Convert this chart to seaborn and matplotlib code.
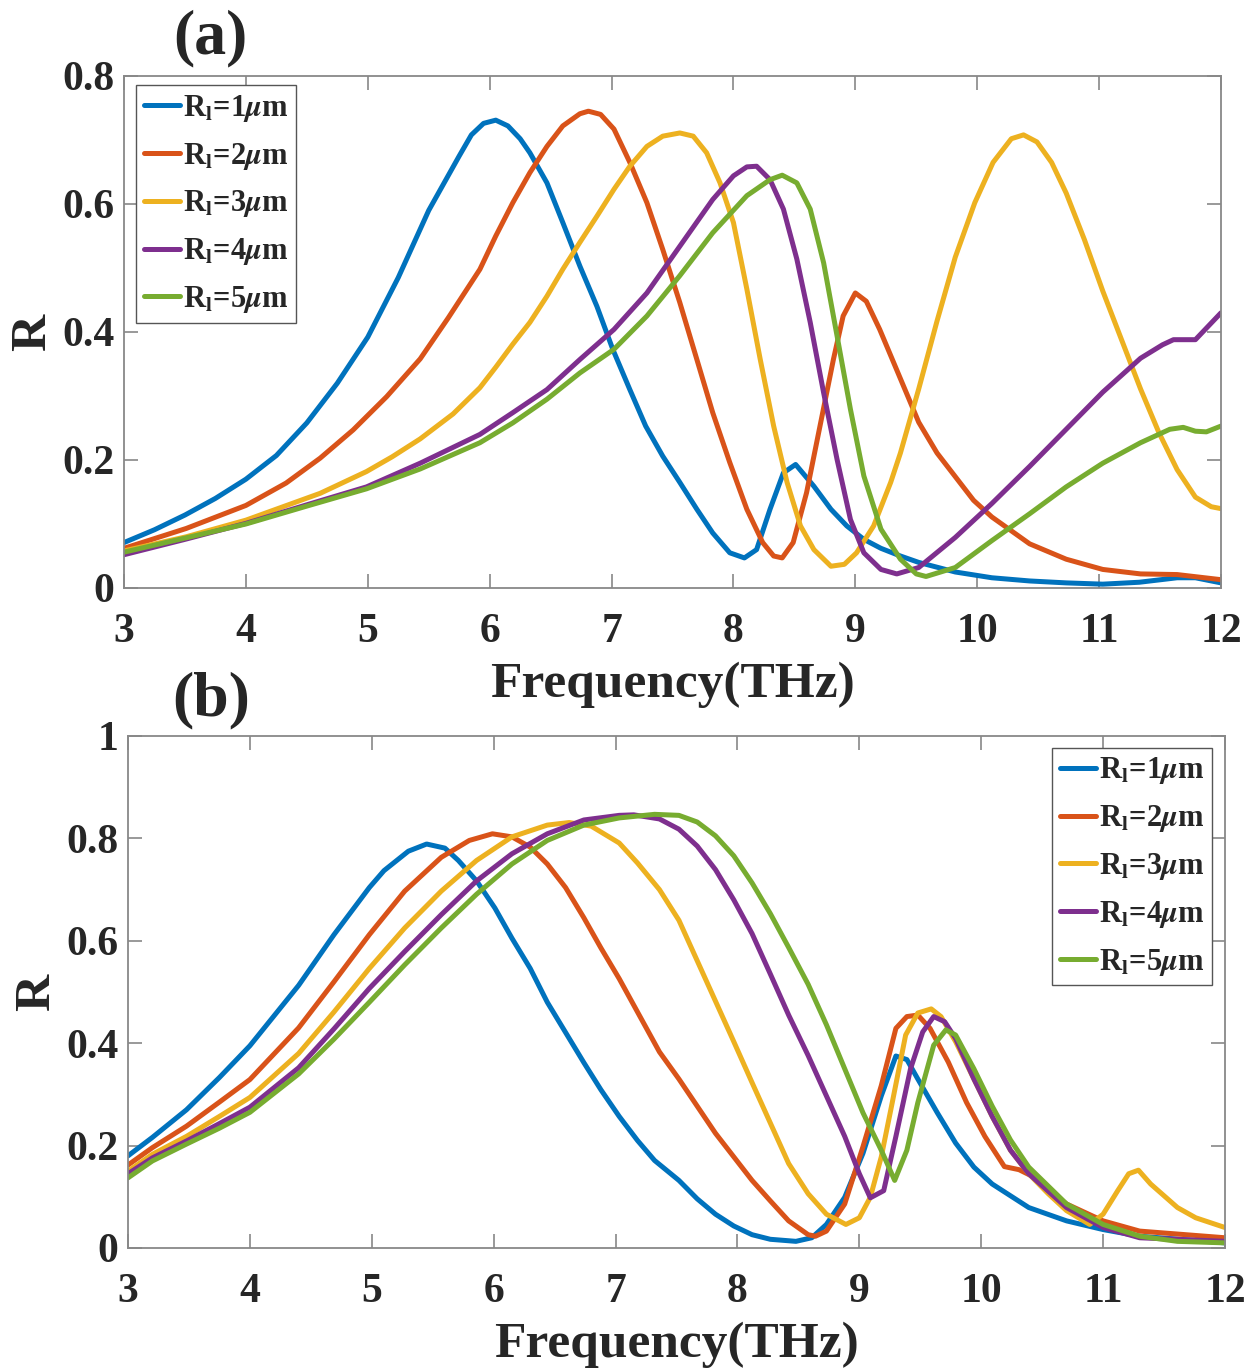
import numpy as np
import pandas as pd
import seaborn as sns
import matplotlib.pyplot as plt


# ---- panel (a) ----
a_f1 = [3.0, 3.25, 3.5, 3.75, 4.0, 4.25, 4.5, 4.75, 5.0, 5.25, 5.5, 5.75, 5.85, 5.95, 6.05, 6.15, 6.25,
        6.33, 6.47, 6.6, 6.74, 6.88, 7.01, 7.15, 7.28, 7.42, 7.56, 7.7, 7.83, 7.97, 8.09, 8.19, 8.3,
        8.41, 8.51, 8.66, 8.8, 8.93, 9.07, 9.21, 9.37, 9.52, 9.82, 10.12, 10.43, 10.73, 11.03, 11.33,
        11.64, 11.79, 12.0]
a_r1 = [0.071, 0.091, 0.114, 0.140, 0.170, 0.207, 0.258, 0.320, 0.392, 0.485, 0.59, 0.675, 0.708, 0.726,
        0.731, 0.722, 0.702, 0.68, 0.633, 0.571, 0.503, 0.44, 0.373, 0.31, 0.253, 0.206, 0.165, 0.123,
        0.086, 0.055, 0.047, 0.06, 0.123, 0.18, 0.193, 0.159, 0.123, 0.097, 0.076, 0.062, 0.05, 0.04,
        0.025, 0.016, 0.011, 0.008, 0.006, 0.009, 0.016, 0.016, 0.008]

a_f2 = [3.0, 3.51, 4.0, 4.33, 4.61, 4.88, 5.155, 5.43, 5.66, 5.92, 6.05, 6.19, 6.33, 6.47, 6.6, 6.74,
        6.81, 6.91, 7.02, 7.15, 7.29, 7.42, 7.56, 7.7, 7.83, 7.97, 8.11, 8.24, 8.33, 8.4, 8.49, 8.6,
        8.71, 8.82, 8.9, 9.0, 9.09, 9.2, 9.37, 9.52, 9.67, 9.82, 9.97, 10.12, 10.43, 10.73, 11.03,
        11.34, 11.64, 12.0]
a_r2 = [0.062, 0.093, 0.129, 0.164, 0.203, 0.247, 0.299, 0.358, 0.422, 0.498, 0.55, 0.602, 0.649, 0.69,
        0.722, 0.741, 0.745, 0.74, 0.717, 0.665, 0.602, 0.529, 0.446, 0.357, 0.274, 0.196, 0.123,
        0.071, 0.05, 0.047, 0.071, 0.149, 0.253, 0.357, 0.425, 0.461, 0.448, 0.404, 0.327, 0.259,
        0.211, 0.174, 0.137, 0.111, 0.069, 0.045, 0.029, 0.022, 0.021, 0.013]

a_f3 = [3.0, 3.51, 4.0, 4.61, 4.99, 5.2, 5.43, 5.70, 5.92, 6.05, 6.19, 6.33, 6.47, 6.6, 6.74, 6.88, 7.02,
        7.15, 7.29, 7.42, 7.56, 7.67, 7.78, 7.89, 8.0, 8.11, 8.22, 8.33, 8.44, 8.55, 8.66, 8.8, 8.91,
        9.01, 9.15, 9.29, 9.37, 9.52, 9.67, 9.82, 9.98, 10.13, 10.28, 10.38, 10.49, 10.61, 10.73,
        10.88, 11.03, 11.19, 11.34, 11.49, 11.64, 11.79, 11.92, 12.0]
a_r3 = [0.058, 0.080, 0.106, 0.148, 0.182, 0.205, 0.233, 0.272, 0.313, 0.345, 0.381, 0.415, 0.456,
        0.498, 0.54, 0.581, 0.623, 0.659, 0.69, 0.706, 0.711, 0.706, 0.68, 0.633, 0.571, 0.467, 0.357,
        0.253, 0.165, 0.097, 0.06, 0.034, 0.037, 0.055, 0.097, 0.165, 0.211, 0.311, 0.417, 0.517,
        0.602, 0.665, 0.702, 0.708, 0.697, 0.665, 0.617, 0.544, 0.464, 0.385, 0.311, 0.243, 0.185,
        0.142, 0.127, 0.124]

a_f4 = [3.0, 3.5, 4.0, 4.5, 4.99, 5.43, 5.92, 6.19, 6.47, 6.74, 7.02, 7.29, 7.56, 7.83, 8.0, 8.11,
        8.19, 8.3, 8.41, 8.52, 8.63, 8.74, 8.85, 8.96, 9.07, 9.21, 9.34, 9.52, 9.82, 10.12, 10.43,
        10.73, 11.03, 11.34, 11.52, 11.61, 11.79, 11.88, 12.0]
a_r4 = [0.052, 0.076, 0.101, 0.130, 0.158, 0.195, 0.24, 0.274, 0.31, 0.357, 0.404, 0.461, 0.534,
        0.607, 0.644, 0.658, 0.659, 0.638, 0.592, 0.514, 0.415, 0.305, 0.201, 0.107, 0.055, 0.029,
        0.022, 0.032, 0.079, 0.132, 0.19, 0.248, 0.306, 0.359, 0.38, 0.388, 0.388, 0.406, 0.43]

a_f5 = [3.0, 3.5, 4.0, 4.5, 4.99, 5.43, 5.92, 6.19, 6.47, 6.74, 7.02, 7.29, 7.56, 7.83, 8.11, 8.3,
        8.4, 8.52, 8.63, 8.74, 8.85, 8.96, 9.07, 9.21, 9.37, 9.5, 9.58, 9.82, 10.12, 10.43, 10.73,
        11.03, 11.34, 11.58, 11.69, 11.79, 11.88, 12.0]
a_r5 = [0.056, 0.078, 0.100, 0.128, 0.155, 0.186, 0.227, 0.258, 0.295, 0.336, 0.373, 0.425, 0.488,
        0.555, 0.613, 0.638, 0.645, 0.633, 0.592, 0.508, 0.394, 0.279, 0.175, 0.092, 0.045, 0.022,
        0.018, 0.032, 0.074, 0.116, 0.158, 0.195, 0.227, 0.248, 0.251, 0.245, 0.244, 0.253]

# ---- panel (b) ----
b_f1 = [3.0, 3.2, 3.48, 3.75, 4.0, 4.4, 4.69, 4.98, 5.1, 5.3, 5.45, 5.6, 5.71, 5.86, 6.01, 6.15, 6.3,
        6.44, 6.59, 6.74, 6.88, 7.03, 7.18, 7.32, 7.52, 7.67, 7.82, 7.97, 8.12, 8.27, 8.48, 8.61,
        8.73, 8.88, 9.03, 9.18, 9.3, 9.39, 9.48, 9.64, 9.79, 9.94, 10.09, 10.39, 10.7, 11.0, 11.3, 12.0]
b_r1 = [0.18, 0.216, 0.27, 0.333, 0.395, 0.513, 0.612, 0.704, 0.737, 0.775, 0.789, 0.781, 0.757, 0.717,
        0.664, 0.605, 0.546, 0.48, 0.421, 0.362, 0.309, 0.257, 0.21, 0.171, 0.132, 0.096, 0.066,
        0.043, 0.026, 0.017, 0.013, 0.02, 0.046, 0.099, 0.185, 0.297, 0.375, 0.368, 0.33, 0.264,
        0.205, 0.158, 0.125, 0.079, 0.053, 0.036, 0.023, 0.01]

b_f2 = [3.0, 3.2, 3.48, 3.75, 4.0, 4.4, 4.69, 4.98, 5.27, 5.57, 5.8, 5.99, 6.15, 6.3, 6.44, 6.59,
        6.74, 6.88, 7.03, 7.18, 7.36, 7.52, 7.67, 7.82, 7.97, 8.12, 8.27, 8.42, 8.58, 8.64, 8.73,
        8.88, 9.03, 9.18, 9.3, 9.39, 9.48, 9.58, 9.73, 9.88, 10.03, 10.19, 10.31, 10.42, 10.55,
        10.7, 11.0, 11.3, 12.0]
b_r2 = [0.162, 0.196, 0.238, 0.285, 0.329, 0.43, 0.52, 0.612, 0.697, 0.763, 0.796, 0.809, 0.803,
        0.783, 0.75, 0.704, 0.645, 0.586, 0.526, 0.461, 0.383, 0.33, 0.277, 0.224, 0.178, 0.132,
        0.092, 0.053, 0.026, 0.023, 0.033, 0.086, 0.198, 0.317, 0.429, 0.452, 0.455, 0.429, 0.363,
        0.284, 0.218, 0.159, 0.153, 0.14, 0.112, 0.086, 0.053, 0.033, 0.02]

b_f3 = [3.0, 3.2, 3.48, 3.75, 4.0, 4.4, 4.69, 4.98, 5.27, 5.57, 5.86, 6.15, 6.44, 6.62, 6.8, 7.03,
        7.18, 7.36, 7.52, 7.67, 7.82, 7.97, 8.12, 8.27, 8.42, 8.58, 8.73, 8.89, 9.0, 9.09, 9.18,
        9.27, 9.38, 9.48, 9.59, 9.67, 9.79, 9.94, 10.09, 10.24, 10.39, 10.55, 10.7, 10.89, 11.0,
        11.12, 11.21, 11.29, 11.39, 11.61, 11.76, 12.0]
b_r3 = [0.150, 0.183, 0.218, 0.257, 0.294, 0.38, 0.461, 0.546, 0.625, 0.697, 0.757, 0.803, 0.826,
        0.831, 0.824, 0.791, 0.752, 0.7, 0.64, 0.561, 0.482, 0.403, 0.323, 0.244, 0.165, 0.106, 0.066,
        0.046, 0.059, 0.099, 0.178, 0.284, 0.416, 0.459, 0.467, 0.452, 0.403, 0.33, 0.257, 0.191,
        0.145, 0.106, 0.073, 0.046, 0.066, 0.112, 0.145, 0.152, 0.125, 0.079, 0.059, 0.04]

b_f4 = [3.0, 3.2, 3.48, 3.75, 4.0, 4.4, 4.69, 4.98, 5.27, 5.57, 5.86, 6.15, 6.44, 6.74, 7.03, 7.15,
        7.36, 7.52, 7.67, 7.82, 7.97, 8.12, 8.27, 8.42, 8.58, 8.73, 8.88, 9.0, 9.09, 9.2, 9.3, 9.42,
        9.52, 9.61, 9.7, 9.79, 9.94, 10.09, 10.24, 10.39, 10.7, 11.0, 11.3, 12.0]
b_r4 = [0.145, 0.176, 0.209, 0.243, 0.275, 0.352, 0.428, 0.507, 0.579, 0.651, 0.717, 0.77, 0.809,
        0.836, 0.845, 0.846, 0.838, 0.818, 0.785, 0.739, 0.68, 0.614, 0.535, 0.455, 0.376, 0.297,
        0.218, 0.145, 0.098, 0.112, 0.218, 0.35, 0.422, 0.452, 0.442, 0.409, 0.33, 0.257, 0.191,
        0.145, 0.079, 0.04, 0.02, 0.013]

b_f5 = [3.0, 3.2, 3.48, 3.75, 4.0, 4.4, 4.69, 4.98, 5.27, 5.57, 5.86, 6.15, 6.44, 6.74, 7.03, 7.32,
        7.52, 7.67, 7.82, 7.97, 8.12, 8.27, 8.42, 8.58, 8.73, 8.88, 9.03, 9.18, 9.29, 9.39, 9.48,
        9.61, 9.71, 9.79, 9.94, 10.09, 10.24, 10.39, 10.7, 11.0, 11.3, 11.61, 12.0]
b_r5 = [0.137, 0.170, 0.203, 0.234, 0.265, 0.34, 0.408, 0.48, 0.553, 0.625, 0.691, 0.75, 0.796,
        0.826, 0.840, 0.847, 0.845, 0.832, 0.805, 0.766, 0.713, 0.653, 0.587, 0.515, 0.436, 0.35,
        0.264, 0.191, 0.132, 0.191, 0.284, 0.396, 0.426, 0.416, 0.35, 0.277, 0.211, 0.158, 0.086,
        0.046, 0.023, 0.013, 0.01]

labels = [r"R$_\mathbf{l}$=1$\mu$m", r"R$_\mathbf{l}$=2$\mu$m", r"R$_\mathbf{l}$=3$\mu$m",
          r"R$_\mathbf{l}$=4$\mu$m", r"R$_\mathbf{l}$=5$\mu$m"]
colors = ["#0072BD", "#D95319", "#EDB120", "#7E2F8E", "#77AC30"]

sns.set_style("ticks")
plt.rcParams["font.family"] = ["Liberation Serif", "DejaVu Serif"]
plt.rcParams["font.weight"] = "bold"
plt.rcParams["mathtext.fontset"] = "stix"

W, H = 1256, 1368
fig = plt.figure(figsize=(W / 100, H / 100), dpi=100)
axA = fig.add_axes([124 / W, 1 - 588 / H, 1097 / W, 512 / H])
axB = fig.add_axes([128 / W, 1 - 1248 / H, 1097 / W, 512 / H])


def draw(ax, series, yticks, yticklabels, loc, anchor):
    for (f, r), lab, c in zip(series, labels, colors):
        sns.lineplot(x=f, y=r, ax=ax, color=c, linewidth=3.6, label=lab,
                     estimator=None, sort=False)
    ax.set_xlim(3, 12)
    ax.set_ylim(yticks[0], yticks[-1])
    ax.set_xticks(range(3, 13))
    ax.set_xticklabels([str(v) for v in range(3, 13)])
    ax.set_yticks(yticks)
    ax.set_yticklabels(yticklabels)
    ax.tick_params(direction="in", top=True, right=True, length=10, width=1.2,
                   color="#888888", labelsize=30, pad=7)
    ax.tick_params(axis="x", pad=18)
    for sp in ax.spines.values():
        sp.set_color("#888888")
        sp.set_linewidth(1.3)
    ax.set_xlabel("Frequency(THz)", fontsize=37, fontweight="bold", labelpad=8)
    ax.set_ylabel("R", fontsize=37, fontweight="bold", labelpad=4)
    leg = ax.legend(loc=loc, bbox_to_anchor=anchor, fontsize=22, handlelength=1.2,
                    handletextpad=0.08, labelspacing=0.55, borderpad=0.25,
                    borderaxespad=0, fancybox=False, framealpha=1)
    leg.get_frame().set_edgecolor("#555555")
    leg.get_frame().set_linewidth(1.0)
    for line in leg.get_lines():
        line.set_linewidth(3.6)


draw(axA, [(a_f1, a_r1), (a_f2, a_r2), (a_f3, a_r3), (a_f4, a_r4), (a_f5, a_r5)],
     [0, 0.2, 0.4, 0.6, 0.8], ["0", "0.2", "0.4", "0.6", "0.8"],
     "upper left", (0.011, 0.982))
draw(axB, [(b_f1, b_r1), (b_f2, b_r2), (b_f3, b_r3), (b_f4, b_r4), (b_f5, b_r5)],
     [0, 0.2, 0.4, 0.6, 0.8, 1.0], ["0", "0.2", "0.4", "0.6", "0.8", "1"],
     "upper right", (0.988, 0.977))

fig.text(210 / W, 1 - 38 / H, "(a)", fontsize=46, fontweight="bold", ha="center", va="center")
fig.text(211 / W, 1 - 700 / H, "(b)", fontsize=46, fontweight="bold", ha="center", va="center")

fig.savefig("out.png", dpi=100, facecolor="white")
